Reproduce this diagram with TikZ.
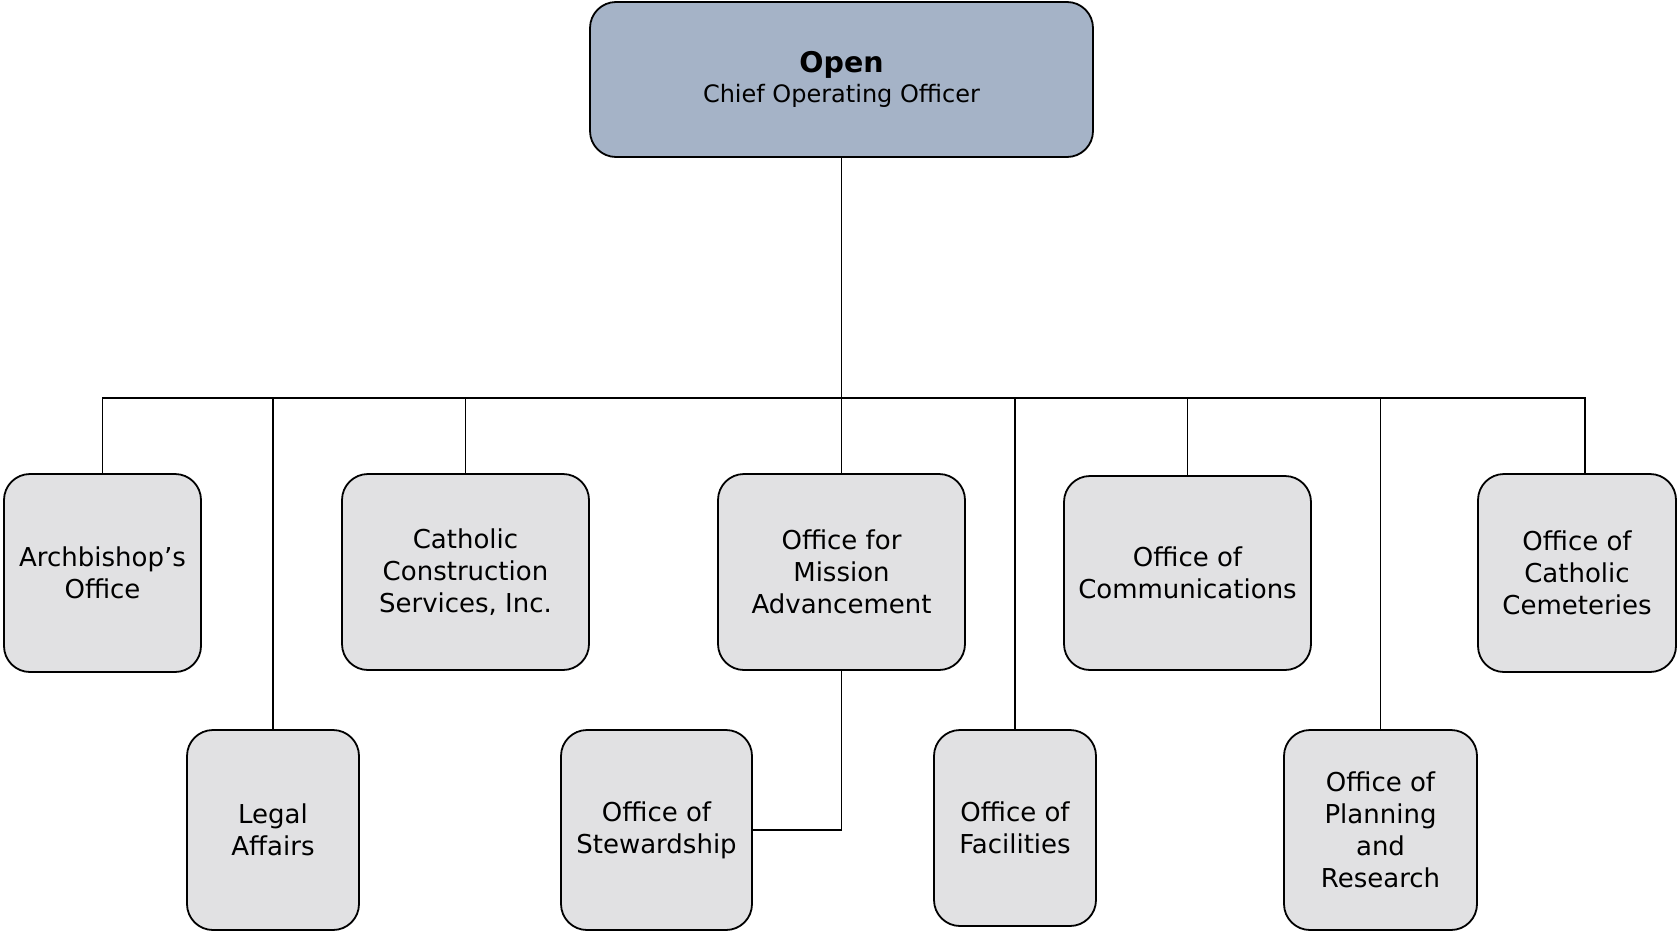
\documentclass[tikz,border=0pt]{standalone}
\usepackage{fontspec}
\setmainfont{DejaVu Sans}
\definecolor{cooblue}{HTML}{A5B3C7}
\definecolor{officegray}{HTML}{E1E1E3}
\tikzset{
  office/.style={draw=black,line width=1.8pt,fill=officegray,rounded corners=26pt,
    align=center,inner sep=0pt,font=\fontsize{26}{32}\selectfont},
  link/.style={line width=1.6pt}
}
\begin{document}
\begin{tikzpicture}[x=1pt,y=-1pt]
  \useasboundingbox (0,0) rectangle (1677,932);

  % Top box
  \node[office,fill=cooblue,minimum width=503pt,minimum height=155pt] (coo) at (841.5,79.5)
    {{\fontsize{28.5}{32}\selectfont\bfseries Open}\\[-2pt]{\fontsize{24}{32}\selectfont Chief Operating Officer}};

  % Upper row
  \node[office,minimum width=197pt,minimum height=198pt] (arch) at (102.5,573) {Archbishop’s\\Office};
  \node[office,minimum width=247pt,minimum height=196pt] (ccs) at (465.5,572) {Catholic\\Construction\\Services, Inc.};
  \node[office,minimum width=247pt,minimum height=196pt] (oma) at (841.5,572) {Office for\\Mission\\Advancement};
  \node[office,minimum width=247pt,minimum height=194pt] (comm) at (1187.5,573) {Office of\\Communications};
  \node[office,minimum width=198pt,minimum height=198pt] (cem) at (1577,573) {Office of\\Catholic\\Cemeteries};

  % Lower row
  \node[office,minimum width=172pt,minimum height=200pt] (legal) at (273,830) {Legal\\Affairs};
  \node[office,minimum width=191pt,minimum height=200pt] (stew) at (656.5,830) {Office of\\Stewardship};
  \node[office,minimum width=162pt,minimum height=196pt] (fac) at (1015,828) {Office of\\Facilities};
  \node[office,minimum width=193pt,minimum height=200pt] (plan) at (1380.5,830) {Office of\\Planning\\and\\Research};

  % Lines
  \coordinate (bus) at (0,398);
  \coordinate (cemtop) at ([xshift=8pt]cem.north);
  \draw[link] (coo.south) -- (oma.north);
  \draw[link] (arch.north) -- (arch.north |- bus) -- (cemtop |- bus) -- (cemtop);
  \foreach \o in {legal,ccs,fac,comm,plan}
    \draw[link] (\o.north) -- (\o.north |- bus);
  \draw[link] (oma.south) |- (stew.east);

\end{tikzpicture}
\end{document}
